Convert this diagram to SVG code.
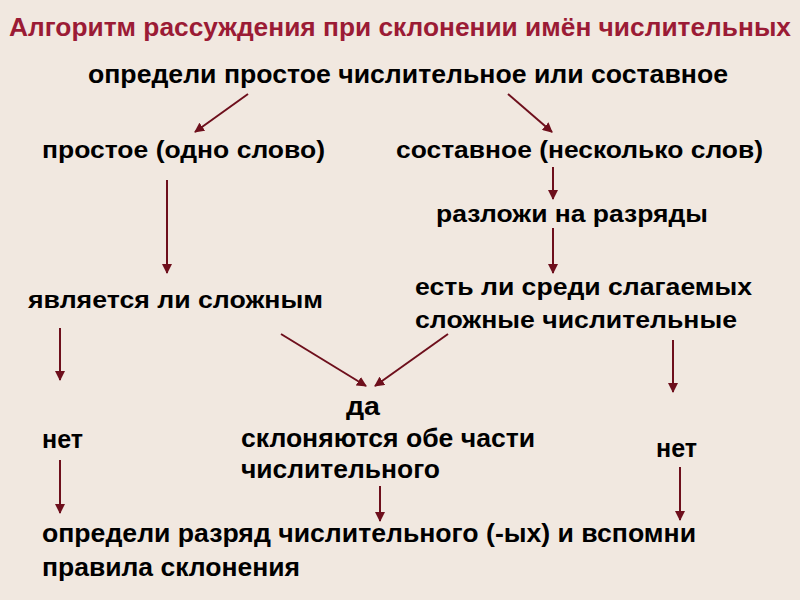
<svg xmlns="http://www.w3.org/2000/svg" width="800" height="600" viewBox="0 0 800 600">
<defs>
<style>
.t{font-family:"Liberation Sans",Arial,sans-serif;font-weight:bold;fill:#000}
.w{font-size:23px}
.n{font-size:25px}
.title{font-family:"Liberation Sans",Arial,sans-serif;font-weight:bold;font-size:26px;fill:#9b1b35}
.c{stroke:#6e0f1c;stroke-width:2;fill:none;marker-end:url(#ah)}
</style>
<marker id="ah" viewBox="0 0 10 10" refX="9" refY="5" markerWidth="5" markerHeight="5" orient="auto" markerUnits="strokeWidth">
<path d="M0,0 L10,5 L0,10 z" fill="#6e0f1c"/>
</marker>
</defs>
<rect x="0" y="0" width="800" height="600" fill="#f1e8e0"/>
<text id="title" class="title" x="9" y="36" textLength="782" lengthAdjust="spacingAndGlyphs">Алгоритм рассуждения при склонении имён числительных</text>
<g id="n-start"><text class="t n" x="88" y="83" textLength="640" lengthAdjust="spacingAndGlyphs">определи простое числительное или составное</text></g>
<g id="n-simple"><text class="t w" x="42" y="158" textLength="283" lengthAdjust="spacingAndGlyphs">простое (одно слово)</text></g>
<g id="n-compound"><text class="t w" x="396" y="158" textLength="367" lengthAdjust="spacingAndGlyphs">составное (несколько слов)</text></g>
<g id="n-split"><text class="t w" x="436" y="222" textLength="272" lengthAdjust="spacingAndGlyphs">разложи на разряды</text></g>
<g id="n-complex"><text class="t w" x="28" y="308" textLength="295" lengthAdjust="spacingAndGlyphs">является ли сложным</text></g>
<g id="n-among"><text class="t w" x="415" y="295" textLength="337" lengthAdjust="spacingAndGlyphs">есть ли среди слагаемых</text><text class="t w" x="415" y="328" textLength="322" lengthAdjust="spacingAndGlyphs">сложные числительные</text></g>
<g id="n-yes"><text class="t n" x="346" y="415" textLength="34" lengthAdjust="spacingAndGlyphs">да</text><text class="t n" x="241" y="447" textLength="294" lengthAdjust="spacingAndGlyphs">склоняются обе части</text><text class="t n" x="241" y="478" textLength="199" lengthAdjust="spacingAndGlyphs">числительного</text></g>
<g id="n-no-left"><text class="t n" x="42" y="448" textLength="41" lengthAdjust="spacingAndGlyphs">нет</text></g>
<g id="n-no-right"><text class="t n" x="656" y="457" textLength="41" lengthAdjust="spacingAndGlyphs">нет</text></g>
<g id="n-end"><text class="t n" x="42" y="542" textLength="654" lengthAdjust="spacingAndGlyphs">определи разряд числительного (-ых) и вспомни</text><text class="t n" x="42" y="576" textLength="258" lengthAdjust="spacingAndGlyphs">правила склонения</text></g>
<g id="connectors">
<line class="c" x1="248" y1="94" x2="195" y2="132"/>
<line class="c" x1="508" y1="94" x2="552" y2="132"/>
<line class="c" x1="167" y1="180" x2="167" y2="273"/>
<line class="c" x1="553" y1="167" x2="553" y2="199"/>
<line class="c" x1="553" y1="228" x2="553" y2="273"/>
<line class="c" x1="60" y1="328" x2="60" y2="380"/>
<line class="c" x1="281" y1="334" x2="366" y2="386"/>
<line class="c" x1="448" y1="334" x2="375" y2="386"/>
<line class="c" x1="673" y1="340" x2="673" y2="392"/>
<line class="c" x1="60" y1="460" x2="60" y2="513"/>
<line class="c" x1="380" y1="486" x2="380" y2="521"/>
<line class="c" x1="680" y1="467" x2="680" y2="520"/>
</g>
</svg>
